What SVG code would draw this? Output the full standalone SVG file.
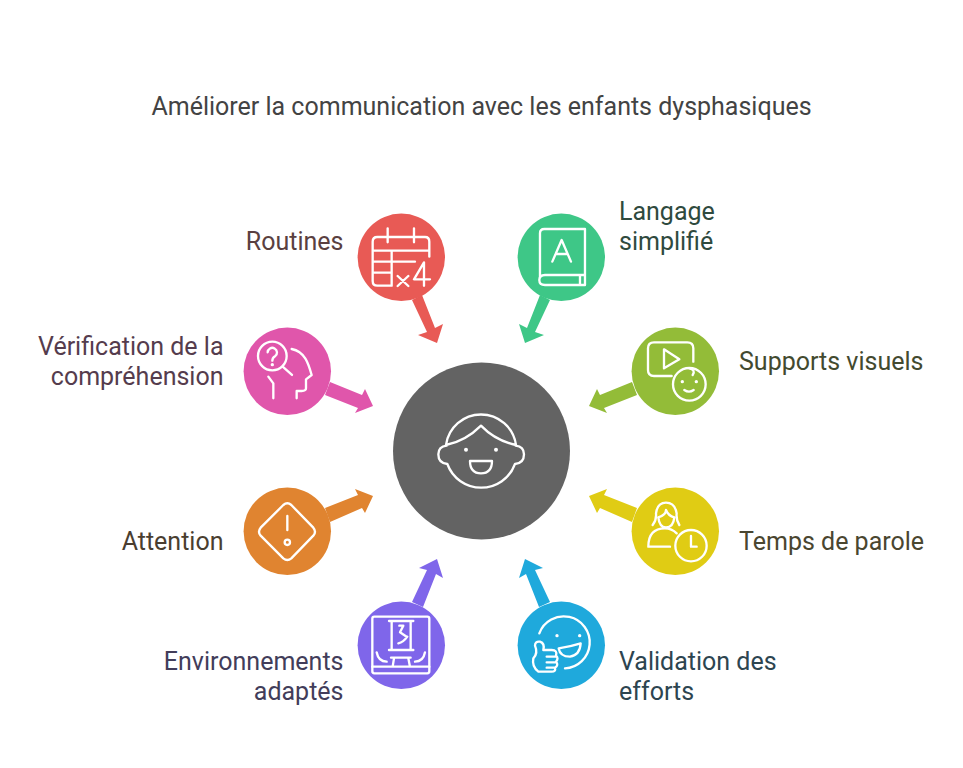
<svg xmlns="http://www.w3.org/2000/svg" width="963" height="768" viewBox="0 0 963 768">
<style>
text{font-family:Roboto,"Liberation Sans",sans-serif;font-size:25px}
.title{fill:#434343}
.end{text-anchor:end}
.ic{fill:none;stroke:#fff;stroke-width:7;stroke-linecap:round;stroke-linejoin:round}
.dot{fill:#fff;stroke:none}
</style>
<rect width="963" height="768" fill="#fff"/>
<text class="title" x="481.500" y="115" text-anchor="middle">Améliorer la communication avec les enfants dysphasiques</text>
<g id="connectors">
<polygon fill="#e85a55" points="412,300 427,332 418,335 437,343 443,324 435,328 422,295"/>
<polygon fill="#3ec787" points="550,300 535,332 544,335 525,343 519,324 527,328 540,295"/>
<polygon fill="#e056ab" points="330,382 362,395 365,389 373,406 355,413 358,408 325,395"/>
<polygon fill="#93bc38" points="632,382 600,395 597,389 589,406 607,413 604,408 637,395"/>
<polygon fill="#e08430" points="325,508 358,495 355,489 373,496 365,513 362,508 330,522"/>
<polygon fill="#e0cc14" points="637,508 604,495 607,489 589,496 597,513 600,508 632,522"/>
<polygon fill="#7f66ea" points="412,602 427,570 419,568 437,559 443,578 436,574 423,607"/>
<polygon fill="#1fa9dc" points="550,602 535,570 543,568 525,559 519,578 526,574 539,607"/>
</g>
<g id="center"><circle cx="481.500" cy="451" r="88.500" fill="#636363"/>
<g transform="translate(420 395) scale(.3333)" class="ic"><path d="M78 150A106 106 0 0 1 288 150M78 150C130 140 160 115 183 92C205 115 240 140 288 150M80 152Q55 155 55 178Q55 205 82 207A108 108 0 0 0 285 207Q312 205 312 178Q312 155 287 152M150 198H216Q216 235 183 235Q150 235 150 198Z"/><circle class="dot" cx="138" cy="164" r="6"/><circle class="dot" cx="228" cy="164" r="6"/></g></g>
<g id="routines"><circle cx="401.300" cy="257.300" r="43.700" fill="#e85a55"/>
<g transform="translate(340 200) scale(.3333)" class="ic"><path d="M155 257H112Q98 257 98 243V125Q98 111 112 111H255Q268 111 268 125V170M143 85V127M222 85V127M98 152H268M98 185H225M98 218H155M155 152V257M173 228L205 258M205 228L173 258M252 257V187L222 238H270"/></g>
<text class="end" x="343.500" y="250" fill="#5a4040">Routines</text></g>
<g id="langage"><circle cx="561.300" cy="257.300" r="43.700" fill="#3ec787"/>
<g transform="translate(340 200) scale(.3333)" class="ic"><path d="M600 232V100Q600 87 613 87H735V255H615Q598 255 598 240Q598 225 615 225H735M720 228V255M637 185L665 120L693 185M647 162H683"/></g>
<text x="619" y="220" fill="#2f4a3e">Langage</text><text x="619" y="250" fill="#2f4a3e">simplifié</text></g>
<g id="verification"><circle cx="287.300" cy="371.300" r="43.700" fill="#e056ab"/>
<g transform="translate(230 320) scale(.3333)" class="ic"><circle cx="127" cy="108" r="43"/><path d="M113 97A14 14 0 1 1 135 109Q127 114 127 122M158 140L186 165M185 87C225 95 235 130 245 165L228 178V205Q228 213 215 213H200V235M115 170L130 190V235"/><circle class="dot" cx="127" cy="134" r="5"/></g>
<text class="end" x="223.500" y="355" fill="#553c4d">Vérification de la</text><text class="end" x="223.500" y="385" fill="#553c4d">compréhension</text></g>
<g id="supports"><circle cx="675.300" cy="371.300" r="43.700" fill="#93bc38"/>
<g transform="translate(580 320) scale(.3333)" class="ic"><path d="M340 125V85Q340 67 322 67H222Q204 67 204 85V150Q204 168 222 168H275M252 88L298 118L252 145ZM313 210Q327 220 341 210M328 145Q348 150 338 165"/><circle cx="328" cy="193" r="49"/><circle class="dot" cx="307" cy="185" r="5"/><circle class="dot" cx="349" cy="185" r="5"/></g>
<text x="739" y="370" fill="#434a2f">Supports visuels</text></g>
<g id="attention"><circle cx="287.300" cy="531.300" r="43.700" fill="#e08430"/>
<g transform="translate(230 480) scale(.3333)" class="ic"><path d="M160 75Q172 65 184 75L250 143Q260 155 250 167L184 235Q172 245 160 235L92 167Q82 155 92 143ZM172 108V150"/><circle cx="172" cy="187" r="8"/></g>
<text class="end" x="223.500" y="550" fill="#4a3e30">Attention</text></g>
<g id="temps"><circle cx="675.300" cy="531.300" r="43.700" fill="#e0cc14"/>
<g transform="translate(580 480) scale(.3333)" class="ic"><path d="M218 135Q230 120 228 100Q232 68 258 68Q285 68 290 100Q288 120 298 135M235 112Q258 105 258 90Q265 108 283 112M235 112Q238 142 258 142Q280 142 283 112M270 200H205Q205 145 255 145Q275 145 290 160M333 168V200H350"/><circle cx="333" cy="197" r="47"/></g>
<text x="739" y="550" fill="#4a4630">Temps de parole</text></g>
<g id="environnements"><circle cx="401.300" cy="645.300" r="43.700" fill="#7f66ea"/>
<g transform="translate(350 555) scale(.3333)" class="ic"><rect x="67" y="185" width="171" height="170" rx="6"/><path d="M67 335H238M117 198H190M125 198V283M182 198V283M117 285H190M148 212H160L150 232L170 245M145 265Q160 262 172 245M80 292Q85 320 110 320M225 292Q220 320 195 320M123 308H182M132 310L128 335M175 310L180 335"/></g>
<text class="end" x="343.500" y="670" fill="#423d5a">Environnements</text><text class="end" x="343.500" y="700" fill="#423d5a">adaptés</text></g>
<g id="validation"><circle cx="561.300" cy="645.300" r="43.700" fill="#1fa9dc"/>
<g transform="translate(510 555) scale(.3333)" class="ic"><path d="M88 235A78 78 0 1 1 165 340M146 280Q180 275 212 265Q210 300 180 305Q150 305 146 280ZM70 310Q65 335 85 350H125Q138 350 135 338Q147 330 138 320Q147 310 138 302Q143 285 125 285H100Q105 265 90 260Q75 258 75 272Q85 295 70 310M110 305H138M110 322H138M110 338H135"/><circle class="dot" cx="141" cy="242" r="5"/><circle class="dot" cx="209" cy="242" r="5"/></g>
<text x="619" y="670" fill="#2d4550">Validation des</text><text x="619" y="700" fill="#2d4550">efforts</text></g>
</svg>
